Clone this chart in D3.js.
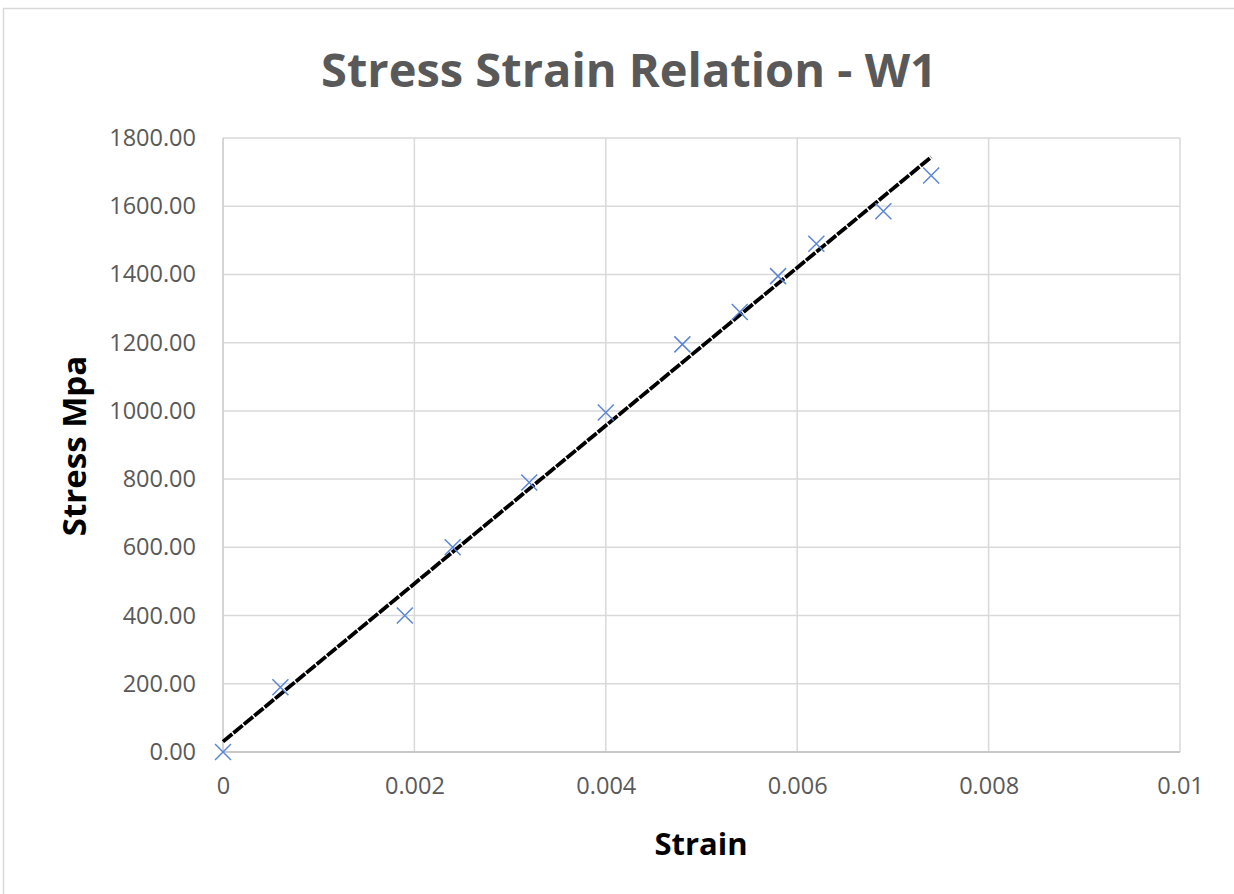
<!DOCTYPE html>
<html>
<head>
<meta charset="utf-8">
<script src="https://cdn.jsdelivr.net/npm/d3@7"></script>
<style>
body{margin:0;background:#fff}
svg{display:block}
</style>
</head>
<body>
<svg id="chart" width="1234" height="894"></svg>
<script>
// strain / stress readings for W1
let strain=[0,0.0006,0.0019,0.0024,0.0032,0.004,0.0048,0.0054,0.0058,0.0062,0.0069,0.0074]
let stress=[0,190,400,600,790,995,1195,1290,1395,1490,1585,1690]
let xTicks=[0,0.002,0.004,0.006,0.008,0.01]
let yTicks=[0,200,400,600,800,1000,1200,1400,1600,1800]

let svg=d3.select("#chart")
let pLeft=223,pRight=1180,pTop=138,pBottom=752

// chart frame
svg.append("rect").attr("x",3.5).attr("y",8.5).attr("width",1240).attr("height",900)
.attr("fill","#fff").attr("stroke","#d9d9d9").attr("stroke-width",1.5)

let x=d3.scaleLinear().domain([0,0.01]).range([pLeft,pRight])
let y=d3.scaleLinear().domain([0,1800]).range([pBottom,pTop])

// grid
svg.append("g").selectAll("line").data(yTicks).enter().append("line")
.attr("x1",pLeft).attr("x2",pRight).attr("y1",d=>y(d)).attr("y2",d=>y(d))
.attr("stroke","#d9d9d9").attr("stroke-width",1.5)
svg.append("g").selectAll("line").data(xTicks).enter().append("line")
.attr("x1",d=>x(d)).attr("x2",d=>x(d)).attr("y1",pTop).attr("y2",pBottom)
.attr("stroke","#d9d9d9").attr("stroke-width",1.5)

// axis lines
svg.append("line").attr("x1",pLeft).attr("x2",pRight).attr("y1",pBottom).attr("y2",pBottom)
.attr("stroke","#bfbfbf").attr("stroke-width",1.5)
svg.append("line").attr("x1",pLeft).attr("x2",pLeft).attr("y1",pTop).attr("y2",pBottom)
.attr("stroke","#d0d0d0").attr("stroke-width",1.5)

// tick labels
let yAxis=svg.append("g").attr("transform","translate("+(pLeft-27)+",0)")
.call(d3.axisLeft(y).tickValues(yTicks).tickSize(0).tickPadding(0).tickFormat(d3.format(".2f")))
let xAxis=svg.append("g").attr("transform","translate(0,"+(pBottom+25)+")")
.call(d3.axisBottom(x).tickValues(xTicks).tickSize(0).tickPadding(0).tickFormat(d=>d===0?"0":d3.format(".3~f")(d)))
;[yAxis,xAxis].forEach(a=>{
a.select(".domain").remove()
a.selectAll("text").attr("fill","#595959").attr("font-family","'Open Sans',sans-serif")
.attr("font-size",23.5)
})
xAxis.selectAll("text").attr("dy","0.71em")

// linear trendline (least squares fit)
let mx=d3.mean(strain),my=d3.mean(stress)
let slope=d3.sum(strain,(s,i)=>(s-mx)*(stress[i]-my))/d3.sum(strain,s=>(s-mx)*(s-mx))
let icpt=my-slope*mx
let xmax=d3.max(strain)
svg.append("line")
.attr("x1",x(0)).attr("y1",y(icpt))
.attr("x2",x(xmax)).attr("y2",y(icpt+slope*xmax))
.attr("stroke","#000").attr("stroke-width",3.8).attr("stroke-dasharray","12,1.5")

// markers
svg.append("g").selectAll("path").data(strain).enter().append("path")
.attr("transform",(d,i)=>"translate("+x(d)+","+y(stress[i])+")")
.attr("d","M-8,-8L8,8M-8,8L8,-8")
.attr("stroke","#5b86d6").attr("stroke-width",1.5).attr("fill","none")

// titles
svg.append("text").attr("x",629).attr("y",87).attr("text-anchor","middle")
.attr("font-family","'Open Sans',sans-serif").attr("font-weight",700).attr("font-size",47)
.attr("fill","#595959").text("Stress Strain Relation - W1")

svg.append("text").attr("x",701).attr("y",855).attr("text-anchor","middle")
.attr("font-family","'Open Sans',sans-serif").attr("font-weight",700).attr("font-size",31)
.attr("fill","#000").text("Strain")

svg.append("text").attr("transform","translate(86,446) rotate(-90)").attr("text-anchor","middle")
.attr("font-family","'Open Sans',sans-serif").attr("font-weight",700).attr("font-size",33)
.attr("fill","#000").text("Stress Mpa")
</script>
</body>
</html>
